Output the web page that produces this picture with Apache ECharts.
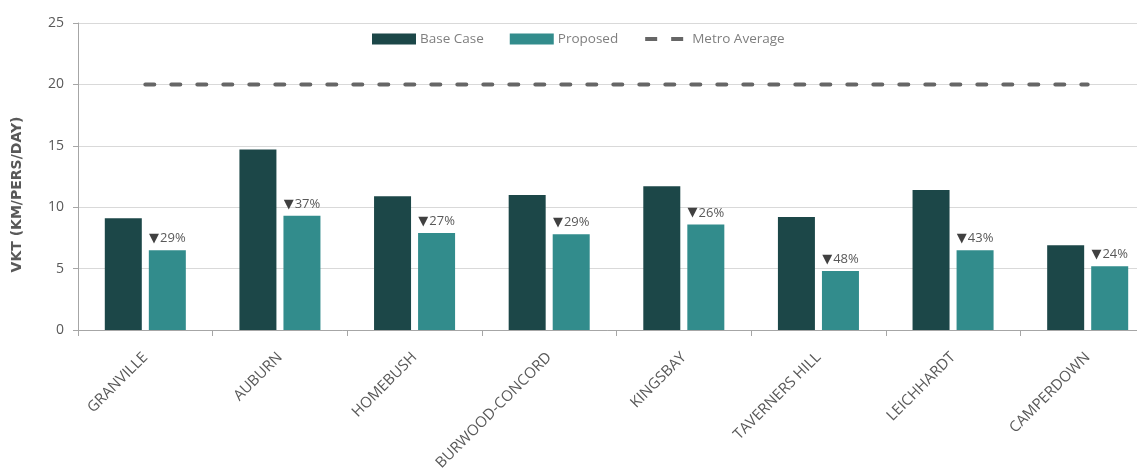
<!DOCTYPE html>
<html>
<head>
<meta charset="utf-8">
<script src="https://cdn.jsdelivr.net/npm/echarts@6/dist/echarts.min.js"></script>
<style>
  html, body { margin: 0; padding: 0; background: #fff; }
  #chart { width: 1137px; height: 474px; }
</style>
</head>
<body>
<div id="chart"></div>
<script>
// Vehicle kilometres travelled per person per day, by precinct
const categories = ['GRANVILLE', 'AUBURN', 'HOMEBUSH', 'BURWOOD-CONCORD', 'KINGSBAY', 'TAVERNERS HILL', 'LEICHHARDT', 'CAMPERDOWN'];
const baseCase = [9.1, 14.7, 10.9, 11.0, 11.7, 9.2, 11.4, 6.9];
const proposed = [6.5, 9.3, 7.9, 7.8, 8.6, 4.8, 6.5, 5.2];
const reductionLabels = ['29%', '37%', '27%', '29%', '26%', '48%', '43%', '24%'];
const metroAverage = [20, 20, 20, 20, 20, 20, 20, 20];
const yTicks = { min: 0, max: 25, interval: 5 };

const FONT = '"Open Sans", sans-serif';
const TEXT = '#595959';

// two short dashes, padded to the full legend icon box
const DASH_ICON = 'path://M0,0L0,0M44,11L44,11M1,3.5h12v4h-12zM27,3.5h12v4h-12z';

const chart = echarts.init(document.getElementById('chart'), null, { renderer: 'canvas' });

chart.setOption({
  animation: false,
  textStyle: { fontFamily: FONT },
  // the category band runs slightly past the right edge of the canvas
  grid: { left: 78, width: 1077, top: 23, bottom: 144, containLabel: false, outerBoundsMode: 'none' },
  legend: {
    top: 32,
    left: 372,
    padding: 0,
    itemWidth: 44,
    itemHeight: 11,
    itemGap: 26,
    textStyle: { fontFamily: FONT, fontSize: 13.5, color: '#7f7f7f', padding: [0, 0, 0, -1] },
    data: [
      { name: 'Base Case', icon: 'rect' },
      { name: 'Proposed', icon: 'rect' },
      { name: 'Metro Average', icon: DASH_ICON, itemStyle: { color: '#666666', borderWidth: 0 } }
    ]
  },
  xAxis: {
    type: 'category',
    data: categories,
    axisLine: { lineStyle: { color: '#a6a6a6', width: 1 } },
    axisTick: { show: true, length: 6, lineStyle: { color: '#a6a6a6' } },
    axisLabel: {
      rotate: 45,
      margin: 25,
      interval: 0,
      fontFamily: FONT,
      fontSize: 15,
      color: TEXT
    }
  },
  yAxis: {
    type: 'value',
    min: yTicks.min,
    max: yTicks.max,
    interval: yTicks.interval,
    name: 'VKT (KM/PERS/DAY)',
    nameLocation: 'middle',
    nameRotate: 90,
    nameGap: 54,
    nameTextStyle: {
      fontFamily: '"DejaVu Sans", sans-serif',
      fontSize: 14,
      fontWeight: 'bold',
      color: TEXT,
      padding: [0, 36, 0, 0]
    },
    axisLine: { show: true, lineStyle: { color: '#a6a6a6', width: 1 } },
    axisTick: { show: true, length: 5, lineStyle: { color: '#a6a6a6' } },
    axisLabel: { margin: 14, fontFamily: FONT, fontSize: 14, color: TEXT },
    splitLine: { lineStyle: { color: '#d9d9d9', width: 1 } }
  },
  series: [
    {
      name: 'Base Case',
      type: 'bar',
      data: baseCase,
      barWidth: 37,
      barGap: '19%',
      itemStyle: { color: '#1c4748' }
    },
    {
      name: 'Proposed',
      type: 'bar',
      data: proposed,
      barWidth: 37,
      itemStyle: { color: '#328c8c' },
      label: {
        show: true,
        position: 'top',
        distance: 5,
        fontFamily: FONT,
        fontSize: 13,
        color: TEXT,
        formatter: p => '{tri|▼}' + reductionLabels[p.dataIndex],
        rich: {
          tri: { fontFamily: '"DejaVu Sans", sans-serif', fontSize: 13, color: '#404040', padding: [0, 1, 0, 0] }
        }
      }
    },
    {
      name: 'Metro Average',
      type: 'line',
      data: metroAverage,
      symbol: 'none',
      color: '#666666',
      lineStyle: { color: '#666666', width: 4, type: [9, 17], cap: 'round' },
      z: 5
    }
  ]
});
</script>
</body>
</html>
